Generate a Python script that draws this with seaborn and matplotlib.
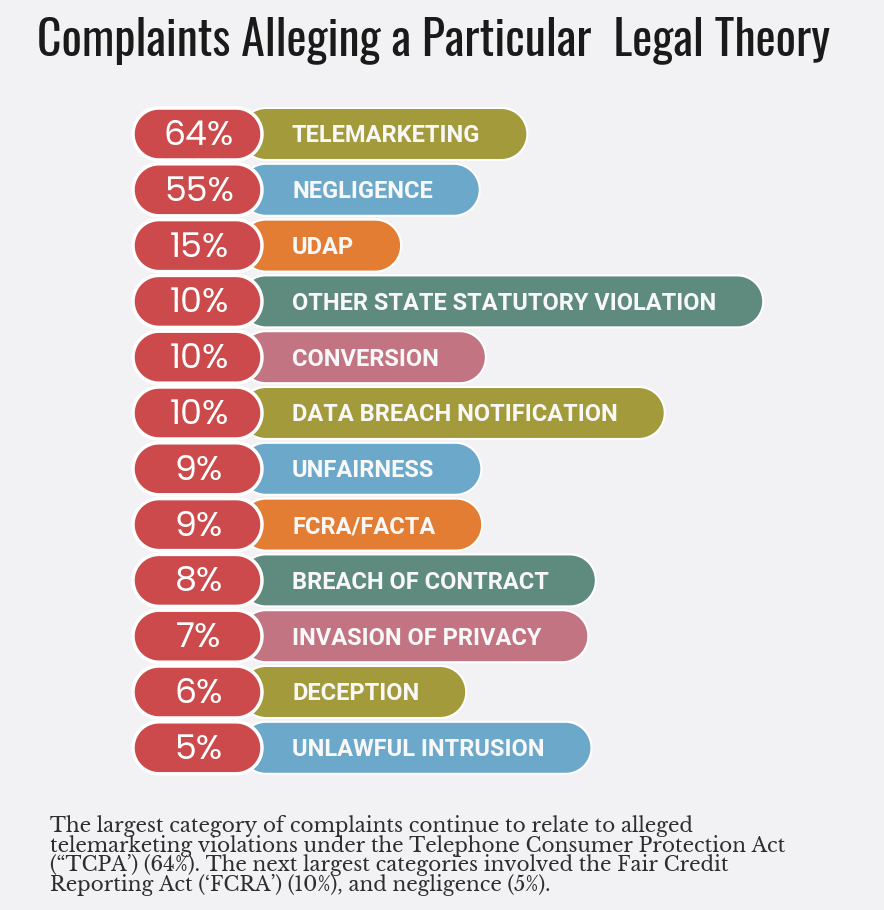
import matplotlib
matplotlib.use("Agg")
import numpy as np
import matplotlib.pyplot as plt
import seaborn as sns
from matplotlib.patches import Polygon

# data
theories = ["TELEMARKETING", "NEGLIGENCE", "UDAP", "OTHER STATE STATUTORY VIOLATION",
            "CONVERSION", "DATA BREACH NOTIFICATION", "UNFAIRNESS", "FCRA/FACTA",
            "BREACH OF CONTRACT", "INVASION OF PRIVACY", "DECEPTION", "UNLAWFUL INTRUSION"]
shares = [64, 55, 15, 10, 10, 10, 9, 9, 8, 7, 6, 5]
bar_colors = ["#a39a3b", "#6ca8ca", "#e37d33", "#5f8a7e", "#c27483", "#a39a3b",
              "#6ca8ca", "#e37d33", "#5f8a7e", "#c27483", "#a39a3b", "#6ca8ca"]
pct_color = "#cc4a4c"
bg = "#f2f2f4"

title = "Complaints Alleging a Particular  Legal Theory"
note_lines = [
    "The largest category of complaints continue to relate to alleged",
    "telemarketing violations under the Telephone Consumer Protection Act",
    "(\u201cTCPA\u2019) (64%). The next largest categories involved the Fair Credit",
    "Reporting Act (\u2018FCRA\u2019) (10%), and negligence (5%).",
]

sns.set_theme(style="white", rc={"axes.facecolor": bg, "figure.facecolor": bg})

W, H = 884, 910
row0, pitch, bar_h = 134, 55.8, 52

fig = plt.figure(figsize=(W / 100, H / 100), dpi=100)
ax = fig.add_axes([0, 0, 1, 1])
renderer = fig.canvas.get_renderer()


def set_limits():
    ax.set_xlim(0, W)
    ax.set_ylim((H - row0) / pitch, -row0 / pitch)


def pill(x0, x1, yc, h, **kw):
    # stadium shape: x in pixels, y in row units
    r = h / 2
    t = np.linspace(-np.pi / 2, np.pi / 2, 40)
    right = np.column_stack([x1 - r + r * np.cos(t), yc + r * np.sin(t) / pitch])
    left = np.column_stack([x0 + r - r * np.cos(t), yc - r * np.sin(t) / pitch])
    return Polygon(np.vstack([right, left]), closed=True, **kw)


set_limits()

# labels first, so the pill length can follow the text
label_font = ["Roboto", "Liberation Sans", "DejaVu Sans"]
ends = []
for i, name in enumerate(theories):
    t = ax.text(292, i + 8.5 / pitch, name, color="#f8f8f8", fontsize=17, fontweight="bold",
                family=label_font, va="baseline", ha="left", zorder=5)
    ends.append(t.get_window_extent(renderer).x1 + 47)

sns.barplot(x=ends, y=theories, hue=theories, palette=bar_colors, orient="h",
            width=bar_h / pitch, saturation=1, legend=False, ax=ax)
set_limits()
ax.set_axis_off()

# turn the flat bars into rounded pills starting under the red badge
for p in list(ax.patches):
    yc, w, fc = p.get_y() + p.get_height() / 2, p.get_width(), p.get_facecolor()
    p.remove()
    ax.add_patch(pill(240, w, yc, bar_h, fc=fc, ec="white", lw=1.5, zorder=2))

for i, v in enumerate(shares):
    ax.add_patch(pill(133, 262, i, bar_h, fc=pct_color, ec="white", lw=2.5, zorder=3))
    ax.text(199, i + 11 / pitch, f"{v}%", color="white", fontsize=25,
            family=["Poppins", "Questrial", "DejaVu Sans"], va="baseline", ha="center", zorder=5)

# title, fitted to the reference width
title_font = ["Oswald", "League Gothic", "DejaVu Sans"]
tt = fig.text(37 / W, 1 - 56 / H, title, fontsize=30, color="#1a1a1a",
              family=title_font, va="baseline", ha="left")
tw = tt.get_window_extent(renderer).width
tt.set_fontsize(30 * 793 / tw)

# footnote, one block fitted to the reference width and line pitch
note_font = ["Libre Baskerville", "Noto Serif", "DejaVu Serif"]
probe = fig.text(0, 0, note_lines[1], fontsize=12, family=note_font)
note_size = 12 * 732 / probe.get_window_extent(renderer).width
probe.set_fontsize(note_size)
h1 = probe.get_window_extent(renderer).height
probe.set_text("\n".join(note_lines))
step = (probe.get_window_extent(renderer).height - h1) / 3
probe.remove()
# anchor is the baseline of the last line
fig.text(50 / W, 1 - 891 / H, "\n".join(note_lines), fontsize=note_size, color="#2e2e2e",
         family=note_font, va="baseline", ha="left", linespacing=1.2 * 19.7 / step * 0.925)

fig.savefig("out.png", dpi=100, facecolor=bg)
